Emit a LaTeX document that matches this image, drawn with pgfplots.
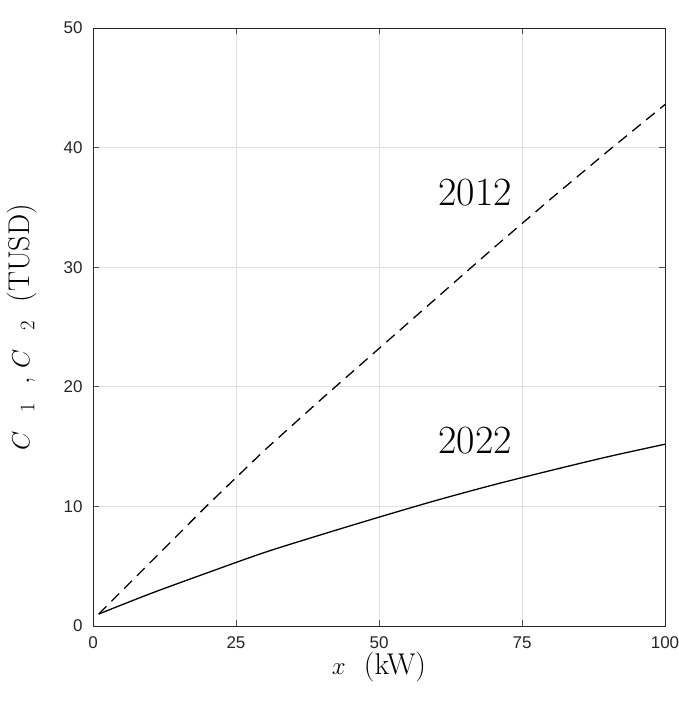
\documentclass[border=0pt]{standalone}
\usepackage{pgfplots}
\pgfplotsset{compat=1.18}
\usepackage{fontspec}
\newfontfamily\arial{Liberation Sans}
\begin{document}
\begin{tikzpicture}
\begin{axis}[
  at={(0pt,0pt)}, anchor=south west,
  width=572pt, height=598pt, scale only axis,
  xmin=0, xmax=100, ymin=0, ymax=50,
  xtick={0,25,50,75,100}, ytick={0,10,20,30,40,50},
  grid=major, grid style={color=black!12, line width=0.7pt},
  axis line style={color=black!85, line width=0.9pt},
  tick style={color=black!70, line width=0.9pt},
  major tick length=6pt, tick align=inside,
  ticklabel style={font=\arial\fontsize{17}{20}\selectfont, text=black!85},
  yticklabel style={xshift=-7pt},
  xticklabel style={yshift=-7pt},
  /pgf/number format/assume math mode=true,
  xlabel={$x$ \ (kW)},
  ylabel={$C$ \ $_{1}$ \ , $C$ \ $_{2}$ \ (TUSD)},
  every axis x label/.style={at={([yshift=-41pt]axis description cs:0.5,0)}, anchor=center},
  every axis y label/.style={at={([xshift=-71pt]axis description cs:0,0.5)}, rotate=90, anchor=center},
  label style={font=\fontsize{30}{36}\selectfont},
  clip=false,
]
\addplot[black, line width=1.3pt, dash pattern=on 11pt off 7pt] coordinates {
 (1,1.0) (10,5.3) (20,10.1) (30,14.7) (40,19.0) (50,23.2)
 (60,27.4) (70,31.6) (80,35.7) (90,39.7) (100,43.6)};
\addplot[black, line width=1.3pt, smooth] coordinates {
 (1,1.0) (10,2.7) (20,4.45) (30,6.15) (40,7.65) (50,9.1)
 (60,10.5) (70,11.8) (80,13.0) (90,14.15) (100,15.2)};
\node[font=\fontsize{40}{48}\selectfont] at (axis cs:66.8,36.2) {2012};
\node[font=\fontsize{40}{48}\selectfont] at (axis cs:66.8,15.5) {2022};
\end{axis}
\pgfresetboundingbox
\path[use as bounding box] (-93pt,-80pt) rectangle (585pt,626pt);
\end{tikzpicture}
\end{document}
